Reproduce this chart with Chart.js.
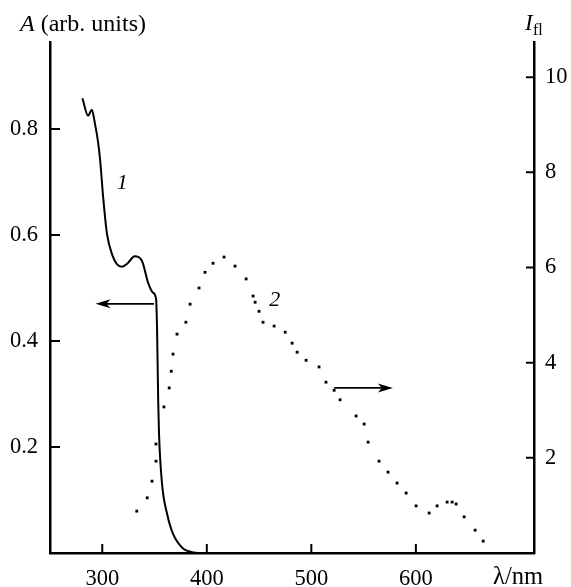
<!DOCTYPE html>
<html>
<head>
<meta charset="utf-8">
<script src="https://cdn.jsdelivr.net/npm/chart.js@4"></script>
<style>
  html, body { margin: 0; padding: 0; background: #fff; }
  #wrap { width: 571px; height: 587px; }
</style>
</head>
<body>
<div id="wrap"><canvas id="c"></canvas></div>
<script>
// Curve 1 — absorption A (left axis)
const absWl = [281, 286.4, 290, 293, 296, 298, 301, 304.5, 310, 314, 319, 324.5, 331, 338, 344, 348.5, 351.5, 352.5, 353.5, 354.3, 357.2, 362, 367.7, 377, 385, 392];
const absA  = [0.858, 0.825, 0.836, 0.81, 0.775, 0.74, 0.668, 0.602, 0.560, 0.545, 0.540, 0.547, 0.560, 0.551, 0.509, 0.491, 0.479, 0.413, 0.287, 0.224, 0.130, 0.074, 0.036, 0.009, 0.002, 0];

// Curve 2 — fluorescence I_fl (right axis), dotted
const flWl = [333, 343, 347.6, 351.4, 351.4, 359, 364, 366, 367.7, 371.5, 380, 384, 392.6, 398.3, 406, 416.5, 427, 437.6, 444.3, 446.2, 450, 453.8, 464.4, 475, 481.6, 486.4, 495, 507.4, 514, 521.8, 527.5, 542.8, 550.5, 554.3, 564.8, 573.4, 582, 590.7, 600.2, 612.7, 620.3, 629.9, 634.7, 638.5, 646.2, 656.7, 664.4];
const flI  = [0.88, 1.16, 1.51, 1.93, 2.29, 3.07, 3.47, 3.82, 4.18, 4.60, 4.85, 5.23, 5.57, 5.90, 6.09, 6.22, 6.03, 5.76, 5.40, 5.27, 5.08, 4.85, 4.77, 4.64, 4.41, 4.22, 4.05, 3.91, 3.59, 3.42, 3.22, 2.88, 2.71, 2.33, 1.93, 1.70, 1.47, 1.26, 0.99, 0.84, 0.99, 1.07, 1.07, 1.03, 0.76, 0.48, 0.25];

// tick labels
const xTicks = [300, 400, 500, 600];
const aTicks = [0.2, 0.4, 0.6, 0.8];
const iTicks = [2, 4, 6, 8, 10];

// arrows (data units) and curve labels
const arrowAbs = { from: 349.5, to: 293.5, y: 0.47, axis: 'y' };
const arrowFl  = { from: 521.8, to: 578, y: 3.47, axis: 'y2' };
const curveLabels = [
  { text: '1', x: 319, y: 0.698, axis: 'y' },
  { text: '2', x: 465, y: 5.31, axis: 'y2' },
];

const SERIF = '"Liberation Serif", "DejaVu Serif", serif';
const INK = '#000';

const toXY = (xs, ys) => xs.map((x, i) => ({ x, y: ys[i] }));
const fixTicks = (vals) => (scale) => { scale.ticks = vals.map((v) => ({ value: v })); };

/* inward ticks, axis titles, curve numbers, arrows */
const decor = {
  id: 'decor',
  afterDraw(chart) {
    const { ctx, chartArea: ca, scales } = chart;
    ctx.save();
    ctx.strokeStyle = INK;
    ctx.fillStyle = INK;
    ctx.lineWidth = 2;

    // tick marks pointing into the plot
    ctx.beginPath();
    xTicks.forEach((v) => {
      const px = scales.x.getPixelForValue(v);
      ctx.moveTo(px, ca.bottom); ctx.lineTo(px, ca.bottom - 9);
    });
    aTicks.forEach((v) => {
      const py = scales.y.getPixelForValue(v);
      ctx.moveTo(ca.left, py); ctx.lineTo(ca.left + 10, py);
    });
    iTicks.forEach((v) => {
      const py = scales.y2.getPixelForValue(v);
      ctx.moveTo(ca.right, py); ctx.lineTo(ca.right - 8, py);
    });
    ctx.stroke();

    // axis titles
    ctx.textBaseline = 'alphabetic';
    ctx.textAlign = 'left';
    ctx.font = `italic 24px ${SERIF}`;
    ctx.fillText('A', 20, 31);
    const aw = ctx.measureText('A').width;
    ctx.font = `24px ${SERIF}`;
    ctx.fillText(' (arb. units)', 20 + aw, 31);

    ctx.font = `italic 23px ${SERIF}`;
    ctx.fillText('I', 525, 30);
    ctx.font = `16px ${SERIF}`;
    ctx.fillText('fl', 533, 35);

    ctx.font = `24.5px ${SERIF}`;
    ctx.fillText('λ/nm', 493, 584);

    // curve numbers
    ctx.font = `italic 22px ${SERIF}`;
    ctx.textAlign = 'center';
    ctx.textBaseline = 'middle';
    curveLabels.forEach((l) => {
      ctx.fillText(l.text, scales.x.getPixelForValue(l.x), scales[l.axis].getPixelForValue(l.y));
    });

    // arrows
    [arrowAbs, arrowFl].forEach((a) => {
      const x1 = scales.x.getPixelForValue(a.from);
      const x2 = scales.x.getPixelForValue(a.to);
      const py = scales[a.axis].getPixelForValue(a.y);
      const dir = Math.sign(x2 - x1);
      ctx.lineWidth = 1.6;
      ctx.beginPath();
      ctx.moveTo(x1, py); ctx.lineTo(x2 - dir * 10, py);
      ctx.stroke();
      ctx.beginPath();
      ctx.moveTo(x2, py);
      ctx.lineTo(x2 - dir * 15, py - 4.5);
      ctx.lineTo(x2 - dir * 11, py);
      ctx.lineTo(x2 - dir * 15, py + 4.5);
      ctx.closePath();
      ctx.fill();
    });
    ctx.restore();
  },
};

const tickFont = { family: SERIF, size: 22.5 };

new Chart(document.getElementById('c'), {
  type: 'line',
  data: {
    datasets: [
      {
        label: 'A',
        data: toXY(absWl, absA),
        yAxisID: 'y',
        borderColor: INK,
        borderWidth: 2,
        pointRadius: 0,
        cubicInterpolationMode: 'monotone',
        fill: false,
      },
      {
        label: 'I_fl',
        data: toXY(flWl, flI),
        yAxisID: 'y2',
        showLine: false,
        pointStyle: 'rect',
        pointRadius: 2,
        pointBorderWidth: 0,
        pointBackgroundColor: INK,
      },
    ],
  },
  options: {
    responsive: true,
    maintainAspectRatio: false,
    animation: false,
    layout: { padding: { top: 42 } },
    plugins: { legend: { display: false }, tooltip: { enabled: false } },
    scales: {
      x: {
        type: 'linear',
        min: 250,
        max: 713,
        afterBuildTicks: fixTicks(xTicks),
        afterFit: (s) => { s.height = 34; },
        grid: { display: false, drawTicks: false },
        border: { display: true, color: INK, width: 2.5 },
        ticks: { color: INK, font: tickFont, padding: 13, autoSkip: false, maxRotation: 0 },
      },
      y: {
        position: 'left',
        min: 0,
        max: 0.964,
        afterBuildTicks: fixTicks(aTicks),
        afterFit: (s) => { s.width = 50; },
        grid: { display: false, drawTicks: false },
        border: { display: true, color: INK, width: 2.5 },
        ticks: { color: INK, font: tickFont, padding: 12, callback: (v) => v.toFixed(1) },
      },
      y2: {
        position: 'right',
        min: 0,
        max: 10.74,
        afterBuildTicks: fixTicks(iTicks),
        afterFit: (s) => { s.width = 37; },
        grid: { display: false, drawTicks: false },
        border: { display: true, color: INK, width: 2.5 },
        ticks: { color: INK, font: tickFont, padding: 11 },
      },
    },
  },
  plugins: [decor],
});
</script>
</body>
</html>
